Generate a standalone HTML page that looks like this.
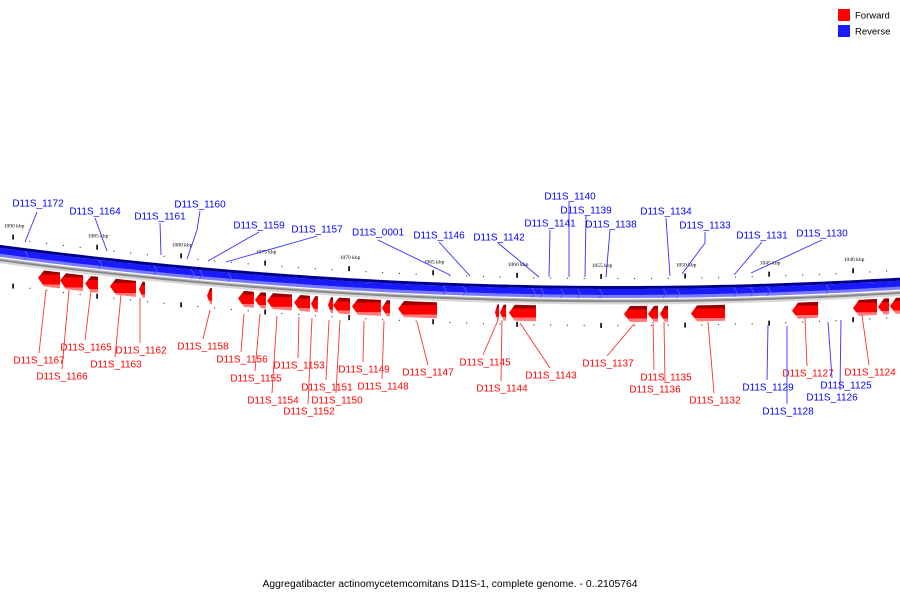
<!DOCTYPE html>
<html><head><meta charset="utf-8"><style>
html,body{margin:0;padding:0;background:#fff;}
svg{display:block;font-family:"Liberation Sans","DejaVu Sans",sans-serif;}
</style></head><body>
<svg id="chart" width="900" height="600" viewBox="0 0 900 600">
<defs>
<linearGradient id="fwdGrad" x1="0" y1="0" x2="0" y2="1">
<stop offset="0" stop-color="#9a0000"/><stop offset="0.22" stop-color="#9a0000"/>
<stop offset="0.23" stop-color="#ff0000"/><stop offset="0.78" stop-color="#ff0000"/>
<stop offset="0.79" stop-color="#ff7a7a"/><stop offset="1" stop-color="#ff7a7a"/>
</linearGradient>
</defs>
<g id="backbone"></g>
<g id="ticks"></g>
<g id="genes"></g>
<g id="labels"></g>
<g>
<rect x="838" y="9" width="12" height="12" fill="#ff0000"/>
<text x="855" y="18.5" font-size="9.5" fill="#000">Forward</text>
<rect x="838" y="25" width="12" height="12" fill="#1a1aff"/>
<text x="855" y="34.5" font-size="9.5" fill="#000">Reverse</text>
</g>
<text x="450" y="587" text-anchor="middle" font-size="10" textLength="375" lengthAdjust="spacingAndGlyphs" fill="#000">Aggregatibacter actinomycetemcomitans D11S-1, complete genome. - 0..2105764</text>
</svg>
<script>
// ---- data ----
const tickKbp = [1090,1085,1080,1075,1070,1065,1060,1055,1050,1045,1040];
const geneStart = [1088.51,1087.20,1085.71,1084.23,1082.50,1078.45,1076.61,1075.60,1074.88,1073.27,1072.26,1071.25,1070.95,1069.82,1068.04,1067.08,1061.31,1061.01,1060.48,1053.63,1052.20,1051.49,1049.64,1043.63,1040.00,1038.51,1037.80];
const geneEnd   = [1087.20,1085.83,1084.94,1082.68,1082.14,1078.15,1075.66,1074.94,1073.39,1072.32,1071.85,1070.95,1069.94,1068.10,1067.56,1064.76,1061.07,1060.65,1058.87,1052.26,1051.61,1051.01,1047.62,1042.08,1038.57,1037.85,1037.10];
const revBoundKbp = [1089.3,1084.9,1081.6,1079.4,1078.9,1077.2,1064.4,1063.2,1059.1,1058.6,1057.4,1056.4,1055.1,1051.3,1050.5,1047.1,1046.1,1045.1,1041.6];
const upLabels = ["D11S_1172","D11S_1164","D11S_1161","D11S_1160","D11S_1159","D11S_1157","D11S_0001","D11S_1146","D11S_1142","D11S_1141","D11S_1140","D11S_1139","D11S_1138","D11S_1134","D11S_1133","D11S_1131","D11S_1130"];
const upText = [[38,203],[95,211],[160,216],[200,204],[259,225],[317,229],[378,232],[439,235],[499,237],[550,223],[570,196],[586,210],[611,224],[666,211],[705,225],[762,235],[822,233]];
const upLine = [[[37,212],[25,242]],[[95,218],[107,251]],[[160,223],[161,255]],[[200,211],[197,230],[187,259]],[[259,232],[208,261]],[[317,236],[226,262]],[[378,240],[450,275]],[[439,242],[470,276]],[[498,243],[539,277]],[[550,230],[549,277]],[[569,202],[569,277]],[[586,216],[585,277]],[[610,230],[606,277]],[[666,218],[670,276]],[[705,232],[705,243],[682,274]],[[762,242],[734,275]],[[822,240],[751,273]]];
const downLabels = ["D11S_1167","D11S_1166","D11S_1165","D11S_1163","D11S_1162","D11S_1158","D11S_1156","D11S_1155","D11S_1154","D11S_1153","D11S_1152","D11S_1151","D11S_1150","D11S_1149","D11S_1148","D11S_1147","D11S_1145","D11S_1144","D11S_1143","D11S_1137","D11S_1135","D11S_1136","D11S_1132","D11S_1127","D11S_1124","D11S_1129","D11S_1128","D11S_1125","D11S_1126"];
const downColor = ["r","r","r","r","r","r","r","r","r","r","r","r","r","r","r","r","r","r","r","r","r","r","r","r","r","b","b","b","b"];
const downText = [[39,360],[62,376],[86,347],[116,364],[141,350],[203,346],[242,359],[256,378],[273,400],[299,365],[309,411],[327,387],[337,400],[364,369],[383,386],[428,372],[485,362],[502,388],[551,375],[608,363],[666,377],[655,389],[715,400],[808,373],[870,372],[768,387],[788,411],[846,385],[832,397]];
const downLine = [[[46,290],[39,353]],[[69,290],[62,369]],[[91,291],[85,340]],[[121,295],[115,357]],[[140,298],[140,343]],[[210,310],[203,339]],[[244,314],[241,352]],[[260,314],[255,371]],[[277,316],[272,393]],[[299,317],[298,358]],[[312,318],[308,404]],[[329,320],[326,380]],[[340,320],[336,393]],[[364,321],[363,362]],[[384,321],[382,379]],[[417,322],[428,365]],[[498,320],[483,355]],[[502,320],[501,381]],[[520,323],[550,368]],[[634,324],[607,356]],[[653,322],[654,370]],[[664,322],[665,382]],[[708,322],[714,393]],[[805,318],[807,366]],[[862,315],[869,365]],[[768,325],[767,380]],[[787,326],[787,404]],[[828,322],[832,378]],[[841,320],[840,390]]];

// ---- scales ----
const NS = "http://www.w3.org/2000/svg";
function xScale(k){ return 13 + (1090 - k) * 16.8; }
function arcY(x){ return 286 - (x - 620) * (x - 620) * 1.07e-4; }
function mk(tag, attrs, parent){
  const e = document.createElementNS(NS, tag);
  for (const a in attrs) e.setAttribute(a, attrs[a]);
  parent.appendChild(e);
  return e;
}
function arcPath(off){
  let d = "";
  for (let x = -10; x <= 910; x += 10) d += (x === -10 ? "M" : "L") + x + "," + (arcY(x) + off).toFixed(2);
  return d;
}

// ---- backbone ----
const bb = document.getElementById("backbone");
[[16.5,4,"#d8d8d8"],[15,2.5,"#888"],[13.8,1.2,"#bbb"],[10.5,3,"#7a7aff"],[6,6,"#1a1aff"],[1.5,3,"#00008b"]].forEach(function(s){
  const p = mk("path", {d: arcPath(s[0]), stroke: s[2], "stroke-width": s[1], fill: "none"}, bb);
  
  
});
revBoundKbp.forEach(function(k){
  const x = xScale(k), y = arcY(x);
  const p = mk("polyline", {points: x + "," + (y + 3) + " " + (x + 3) + "," + (y + 7.5) + " " + x + "," + (y + 12), stroke: "#5050ff", "stroke-width": 1, fill: "none"}, bb);
  
  
});

// ---- ticks ----
const tk = document.getElementById("ticks");
for (let k = 1091; k >= 1036; k--){
  const x = xScale(k);
  if (x < -5 || x > 905) continue;
  const y = arcY(x);
  const major = tickKbp.indexOf(k) >= 0;
  if (major){
    const t = mk("rect", {x: x - 0.7, y: y - 12, width: 1.6, height: 5, fill: "#000"}, tk);
    
    
    const t2 = mk("rect", {x: x - 0.7, y: y + 37, width: 1.6, height: 5, fill: "#000"}, tk);
    
    
    const l = mk("text", {x: x + 1, y: y - 19, "font-size": 5.5, "text-anchor": "middle", fill: "#000", "font-family": "Liberation Serif, serif"}, tk);
    l.textContent = k + " kbp";
    
    
  } else {
    const d = mk("rect", {x: x - 0.6, y: y - 8, width: 1.2, height: 1.2, fill: "#555"}, tk);
    
    
    const d2 = mk("rect", {x: x - 0.6, y: y + 39, width: 1.2, height: 1.2, fill: "#555"}, tk);
    
    
  }
}

// ---- genes ----
const gg = document.getElementById("genes");
geneStart.forEach(function(ks, i){
  const x1 = xScale(ks), x2 = xScale(geneEnd[i]);
  const y1 = arcY(x1) + 20, y2 = arcY(x2) + 20, h = 16;
  const head = Math.min(6, (x2 - x1) * 0.6);
  const yh = arcY(x1 + head) + 20;
  const pts = [[x1 + head, yh], [x2, y2], [x2, y2 + h], [x1 + head, yh + h], [x1, (y1 + y1 + h) / 2]];
  const p = mk("polygon", {points: pts.map(function(q){ return q[0].toFixed(1) + "," + q[1].toFixed(1); }).join(" "), fill: "url(#fwdGrad)"}, gg);
  
  
});

// ---- labels ----
const lg = document.getElementById("labels");
upLabels.forEach(function(n, i){
  const pl = mk("polyline", {points: upLine[i].map(function(q){ return q.join(","); }).join(" "), stroke: "#3030ff", "stroke-width": 0.9, fill: "none"}, lg);
  
  
  const t = mk("text", {x: upText[i][0], y: upText[i][1] + 3.6, "font-size": 10, "text-anchor": "middle", fill: "#0000ff"}, lg);
  t.textContent = n;
  
  
});
downLabels.forEach(function(n, i){
  const c = downColor[i] === "r" ? "#ff0000" : "#0000ff";
  const lc = downColor[i] === "r" ? "#ff3030" : "#3030ff";
  const pl = mk("polyline", {points: downLine[i].map(function(q){ return q.join(","); }).join(" "), stroke: lc, "stroke-width": 0.9, fill: "none"}, lg);
  
  
  const t = mk("text", {x: downText[i][0], y: downText[i][1] + 3.6, "font-size": 10, "text-anchor": "middle", fill: c}, lg);
  t.textContent = n;
  
  
});
</script>
</body></html>
